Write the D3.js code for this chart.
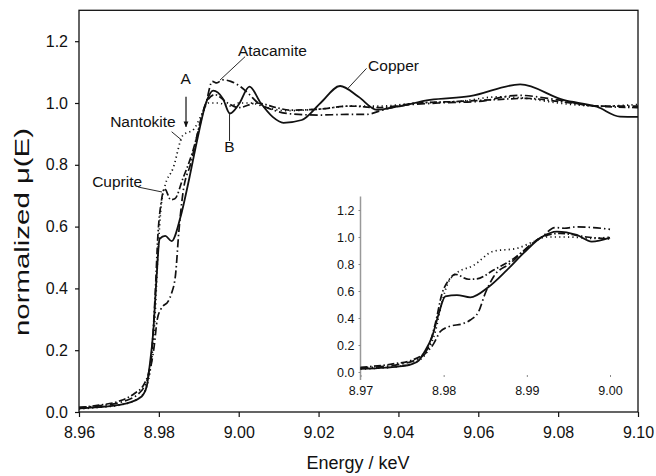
<!DOCTYPE html>
<html>
<head>
<meta charset="utf-8">
<script src="https://cdn.jsdelivr.net/npm/d3@7"></script>
<style>
  body { margin: 0; background: #fff; }
  svg text { font-family: "Liberation Sans", Arial, sans-serif; fill: #111; }
</style>
</head>
<body>
<svg id="chart" width="656" height="476"></svg>
<script>
// [energy keV, normalized mu(E)]
const copper = [[8.96,0.012],[8.965,0.016],[8.97,0.023],[8.973,0.032],[8.975,0.044],[8.976,0.055],[8.977,0.085],
  [8.9776,0.14],[8.9786,0.26],[8.9794,0.43],[8.9802,0.56],[8.9816,0.57],[8.9832,0.553],[8.9854,0.63],[8.9876,0.755],
  [8.9896,0.88],[8.9918,1.0],[8.9936,1.04],[8.996,1.015],[8.9978,0.966],[9.0,0.995],[9.0027,1.053],[9.0055,1.0],
  [9.0085,0.955],[9.0112,0.936],[9.0158,0.945],[9.0205,1.0],[9.0254,1.055],[9.03,1.02],[9.0346,0.978],[9.0396,0.988],
  [9.0479,1.01],[9.0579,1.022],[9.0705,1.06],[9.0813,1.01],[9.0897,0.988],[9.0955,0.956],[9.10,0.955]];

const cuprite = [[8.96,0.015],[8.965,0.022],[8.97,0.035],[8.9739,0.06],[8.9763,0.09],[8.978,0.165],[8.979,0.36],
  [8.9798,0.58],[8.9806,0.68],[8.9814,0.723],[8.983,0.687],[8.984,0.69],[8.986,0.755],[8.9884,0.84],[8.99,0.915],
  [8.9918,1.0],[8.994,1.027],[8.9972,1.0],[9.0,0.985],[9.0045,1.0],[9.0095,0.985],[9.0128,0.977],[9.02,0.98],
  [9.028,0.99],[9.035,0.985],[9.045,1.0],[9.055,1.005],[9.063,1.01],[9.072,1.015],[9.08,1.005],[9.09,0.99],[9.1,0.985]];

const nantokite = [[8.96,0.01],[8.965,0.015],[8.97,0.022],[8.975,0.045],[8.977,0.085],[8.978,0.15],[8.979,0.3],
  [8.9798,0.52],[8.9806,0.67],[8.9814,0.725],[8.9836,0.79],[8.986,0.895],[8.9888,0.916],[8.9908,0.965],[8.9923,1.0],
  [8.9948,1.0],[8.998,0.99],[9.0,1.0],[9.003,1.0],[9.007,0.985],[9.012,0.975],[9.02,0.98],[9.028,0.99],[9.035,0.99],
  [9.045,1.0],[9.055,1.005],[9.065,1.02],[9.072,1.015],[9.08,1.0],[9.09,0.99],[9.1,0.995]];

const atacamite = [[8.96,0.014],[8.965,0.02],[8.97,0.03],[8.975,0.06],[8.9776,0.126],[8.9788,0.21],[8.9796,0.30],
  [8.9806,0.335],[8.9824,0.36],[8.9832,0.385],[8.9842,0.447],[8.985,0.583],[8.986,0.706],[8.988,0.805],[8.9908,0.96],
  [8.9918,1.0],[8.9934,1.07],[8.9945,1.065],[8.996,1.075],[8.998,1.07],[9.0,1.057],[9.0025,1.03],[9.0045,1.004],
  [9.0087,0.977],[9.013,0.965],[9.02,0.961],[9.027,0.963],[9.032,0.963],[9.036,0.977],[9.04,0.99],[9.05,1.0],
  [9.06,1.005],[9.07,1.025],[9.08,1.01],[9.09,0.99],[9.1,0.99]];

const xTicks = [8.96, 8.98, 9.00, 9.02, 9.04, 9.06, 9.08, 9.10];
const yTicks = [0, 0.2, 0.4, 0.6, 0.8, 1.0, 1.2];
const insetXTicks = [8.97, 8.98, 8.99, 9.00];

// label text, text anchor point, leader line start/end (data units)
const notes = [
  { text: "Atacamite", x: 8.9998, y: 1.153, anchor: "start", line: [[9.0016, 1.150], [8.9953, 1.074]] },
  { text: "A", x: 8.9867, y: 1.06, anchor: "middle", line: [[8.9868, 1.020], [8.9868, 0.923]], arrow: true },
  { text: "Nantokite", x: 8.976, y: 0.921, anchor: "middle", line: [[8.9832, 0.907], [8.9857, 0.880]] },
  { text: "B", x: 8.9977, y: 0.843, anchor: "middle", line: [[8.9977, 0.877], [8.9977, 0.964]] },
  { text: "Cuprite", x: 8.9633, y: 0.728, anchor: "start", line: [[8.9748, 0.728], [8.9808, 0.712]] },
  { text: "Copper", x: 9.0324, y: 1.105, anchor: "start", line: [[9.0320, 1.112], [9.0274, 1.048]] }
];

const series = [
  { data: copper, dash: null, w: 1.8 },
  { data: cuprite, dash: "7,2.5,1.5,2.5", w: 1.7 },
  { data: nantokite, dash: "1.2,3.2", w: 1.7 },
  { data: atacamite, dash: "8,3,1.5,3", w: 1.7 }
];

const svg = d3.select("#chart");
const x = d3.scaleLinear().domain([8.96, 9.10]).range([79, 638]);
const y = d3.scaleLinear().domain([0, 1.3]).range([412, 10.3]);

svg.append("defs").append("marker")
  .attr("id", "arr").attr("viewBox", "0 0 10 10").attr("refX", 9).attr("refY", 5)
  .attr("markerWidth", 5).attr("markerHeight", 7).attr("orient", "auto")
  .append("path").attr("d", "M0,1 L10,5 L0,9 Z").attr("fill", "#111");

// frame
svg.append("rect")
  .attr("x", x.range()[0]).attr("y", y.range()[1])
  .attr("width", x.range()[1] - x.range()[0]).attr("height", y.range()[0] - y.range()[1])
  .attr("fill", "none").attr("stroke", "#111").attr("stroke-width", 1.3);

const gx = svg.append("g")
  .attr("transform", `translate(0, ${y(0)})`)
  .call(d3.axisBottom(x).tickValues(xTicks).tickFormat(d3.format(".2f")).tickSize(5).tickSizeOuter(0).tickPadding(10));
const gy = svg.append("g")
  .attr("transform", `translate(${x(8.96)}, 0)`)
  .call(d3.axisLeft(y).tickValues(yTicks).tickFormat(d3.format(".1f")).tickSize(4).tickSizeOuter(0).tickPadding(7));
[gx, gy].forEach(g => {
  g.select(".domain").remove();
  g.selectAll("line").attr("stroke", "#111").attr("stroke-width", 1.2);
  g.selectAll("text").attr("font-size", "16px").attr("fill", "#111")
    .attr("font-family", "'Liberation Sans', Arial, sans-serif");
});

svg.append("text")
  .attr("x", 358).attr("y", 469)
  .attr("text-anchor", "middle").attr("font-size", "18px")
  .text("Energy / keV");

svg.append("text")
  .attr("transform", "translate(29, 232) rotate(-90)")
  .attr("text-anchor", "middle").attr("font-size", "20px")
  .attr("textLength", 208).attr("lengthAdjust", "spacingAndGlyphs")
  .text("normalized μ(E)");

const line = d3.line().x(d => x(d[0])).y(d => y(d[1])).curve(d3.curveMonotoneX);
series.forEach(s => {
  svg.append("path").datum(s.data)
    .attr("d", line)
    .attr("fill", "none").attr("stroke", "#111").attr("stroke-width", s.w)
    .attr("stroke-dasharray", s.dash);
});

// annotations
notes.forEach(n => {
  svg.append("text")
    .attr("x", x(n.x)).attr("y", y(n.y))
    .attr("text-anchor", n.anchor).attr("font-size", "15.5px")
    .text(n.text);
  svg.append("line")
    .attr("x1", x(n.line[0][0])).attr("y1", y(n.line[0][1]))
    .attr("x2", x(n.line[1][0])).attr("y2", y(n.line[1][1]))
    .attr("stroke", "#111").attr("stroke-width", n.arrow ? 1.2 : 0.9)
    .attr("marker-end", n.arrow ? "url(#arr)" : null);
});

// inset: zoom on the edge
const xi = d3.scaleLinear().domain([8.97, 9.00]).range([360.5, 610]);
const yi = d3.scaleLinear().domain([0, 1.3]).range([372, 196.5]);

svg.append("line")
  .attr("x1", xi(8.97)).attr("x2", xi(8.97))
  .attr("y1", yi(1.3)).attr("y2", 380)
  .attr("stroke", "#999").attr("stroke-width", 1.5);

const gyi = svg.append("g")
  .attr("transform", `translate(${xi(8.97)}, 0)`)
  .call(d3.axisLeft(yi).tickValues(yTicks).tickFormat(d3.format(".1f")).tickSize(2).tickPadding(4));
const gxi = svg.append("g")
  .attr("transform", "translate(0, 377)")
  .call(d3.axisBottom(xi).tickValues(insetXTicks).tickFormat(d3.format(".2f")).tickSize(-2).tickPadding(9));
[gxi, gyi].forEach(g => {
  g.select(".domain").remove();
  g.selectAll("line").attr("stroke", "#888").attr("stroke-width", 1);
  g.selectAll("text").attr("font-size", "12.5px").attr("fill", "#222")
    .attr("font-family", "'Liberation Sans', Arial, sans-serif");
});

const lineI = d3.line().x(d => xi(d[0])).y(d => yi(d[1])).curve(d3.curveMonotoneX);
series.forEach(s => {
  svg.append("path").datum(s.data.filter(d => d[0] >= 8.97 && d[0] <= 9.0))
    .attr("d", lineI)
    .attr("fill", "none").attr("stroke", "#111").attr("stroke-width", s.w)
    .attr("stroke-dasharray", s.dash);
});
</script>
</body>
</html>
